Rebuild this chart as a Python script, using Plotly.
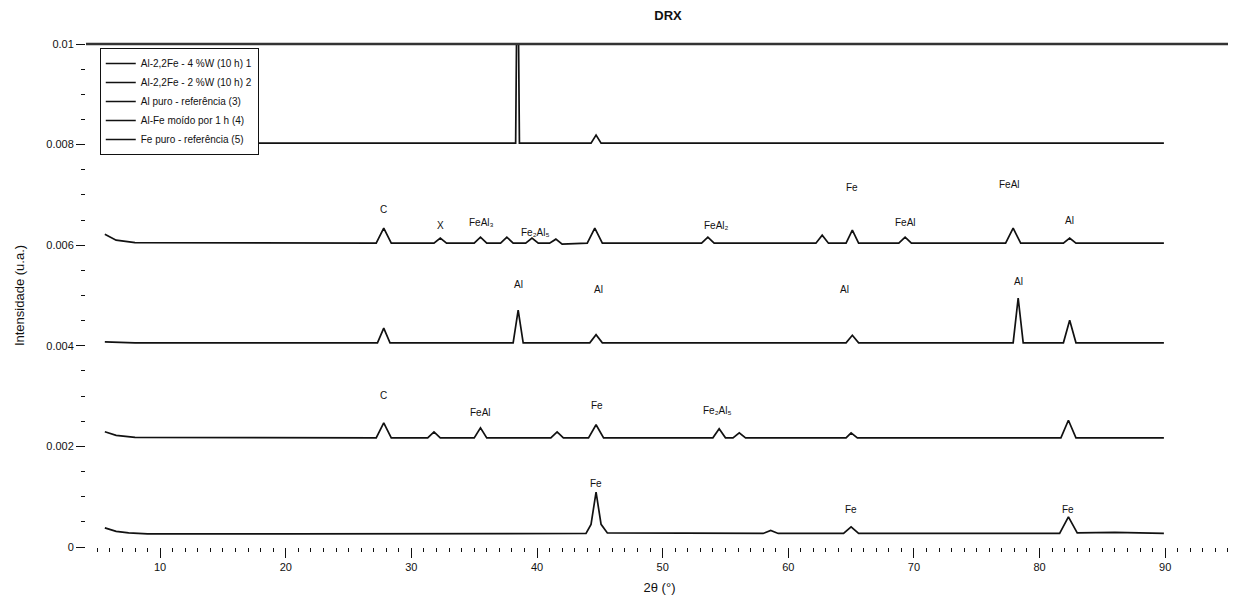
import plotly.graph_objects as go

# ---- data (2theta in degrees, intensity in a.u.) ----
names = ["Al-2,2Fe - 4 %W (10 h) 1", "Al-2,2Fe - 2 %W (10 h) 2", "Al puro - referência (3)",
         "Al-Fe moído por 1 h (4)", "Fe puro - referência (5)"]

a_x = [5.6, 8.0, 20.0, 30.0, 38.3, 38.45, 38.6, 44.3, 44.7, 45.1, 60.0, 75.0, 89.9]
a_y = [0.00806, 0.00803, 0.00803, 0.00803, 0.00803, 0.01250, 0.00803, 0.00803, 0.00819, 0.00803, 0.00803, 0.00803, 0.00803]

b_x = [5.6, 6.5, 8.0, 20.0, 27.2, 27.8, 28.4, 31.8, 32.3, 32.8, 35.0, 35.5, 36.0, 37.1, 37.6, 38.1,
       39.1, 39.6, 40.1, 41.0, 41.5, 42.0, 44.0, 44.6, 45.2, 53.1, 53.6, 54.1, 62.2, 62.7, 63.2,
       64.6, 65.1, 65.6, 68.8, 69.3, 69.8, 77.3, 77.9, 78.5, 81.9, 82.4, 82.9, 89.9]
b_y = [0.00622, 0.00610, 0.00605, 0.00604, 0.00604, 0.00634, 0.00604, 0.00604, 0.00614, 0.00604,
       0.00604, 0.00616, 0.00604, 0.00604, 0.00616, 0.00604, 0.00604, 0.00614, 0.00604, 0.00604,
       0.00612, 0.00602, 0.00604, 0.00634, 0.00604, 0.00604, 0.00616, 0.00604, 0.00604, 0.00620,
       0.00604, 0.00604, 0.00630, 0.00604, 0.00604, 0.00616, 0.00604, 0.00604, 0.00634, 0.00604,
       0.00604, 0.00614, 0.00604, 0.00604]

c_x = [5.6, 8.0, 27.3, 27.8, 28.3, 38.1, 38.5, 38.9, 44.2, 44.7, 45.2, 64.6, 65.1, 65.6,
       77.9, 78.3, 78.7, 81.9, 82.4, 82.9, 89.9]
c_y = [0.00408, 0.00406, 0.00406, 0.00435, 0.00406, 0.00406, 0.00471, 0.00406, 0.00406, 0.00422,
       0.00406, 0.00406, 0.00421, 0.00406, 0.00406, 0.00495, 0.00406, 0.00406, 0.00451, 0.00406,
       0.00406]

d_x = [5.6, 6.5, 8.0, 27.2, 27.8, 28.4, 31.3, 31.8, 32.3, 35.0, 35.5, 36.0, 41.1, 41.6, 42.1,
       44.1, 44.7, 45.3, 54.0, 54.5, 55.0, 55.6, 56.1, 56.6, 64.6, 65.0, 65.5, 81.7, 82.3, 82.9, 89.9]
d_y = [0.00229, 0.00222, 0.00218, 0.00217, 0.00247, 0.00217, 0.00217, 0.00229, 0.00217, 0.00217,
       0.00237, 0.00217, 0.00217, 0.00229, 0.00217, 0.00217, 0.00243, 0.00217, 0.00217, 0.00235,
       0.00217, 0.00217, 0.00227, 0.00217, 0.00217, 0.00227, 0.00217, 0.00217, 0.00252, 0.00217,
       0.00217]

e_x = [5.6, 6.5, 7.5, 9.0, 20.0, 30.0, 40.0, 43.9, 44.3, 44.7, 45.1, 45.6, 58.0, 58.6, 59.2,
       64.4, 65.0, 65.6, 75.0, 81.6, 82.3, 83.0, 86.0, 89.9]
e_y = [0.00038, 0.00031, 0.00028, 0.00026, 0.00026, 0.00026, 0.00026, 0.00027, 0.00045, 0.00109,
       0.00045, 0.00028, 0.00027, 0.00033, 0.00027, 0.00027, 0.00040, 0.00027, 0.00027, 0.00027,
       0.00060, 0.00028, 0.00029, 0.00027]

# peak labels: text, 2theta, intensity
lab_text = ["C", "X", "FeAl₃", "Fe₂Al₅", "FeAl₂", "Fe", "FeAl", "FeAl", "Al",
            "Al", "Al", "Al", "Al",
            "C", "FeAl", "Fe", "Fe₂Al₅",
            "Fe", "Fe", "Fe"]
lab_x = [27.8, 32.3, 35.6, 39.8, 54.3, 65.1, 69.3, 77.6, 82.4,
         38.5, 44.9, 64.5, 78.3,
         27.8, 35.5, 44.8, 54.3,
         44.7, 65.0, 82.3]
lab_y = [0.00670, 0.00640, 0.00646, 0.00626, 0.00640, 0.00714, 0.00646, 0.00720, 0.00650,
         0.00521, 0.00511, 0.00511, 0.00527,
         0.00302, 0.00268, 0.00282, 0.00272,
         0.00127, 0.00074, 0.00074]

series = [(a_x, a_y), (b_x, b_y), (c_x, c_y), (d_x, d_y), (e_x, e_y)]

fig = go.Figure()
for nm, (xs, ys) in zip(names, series):
    fig.add_trace(go.Scatter(x=xs, y=ys, mode="lines", name=nm,
                             line=dict(color="#111111", width=1.7)))

for t, x, y in zip(lab_text, lab_x, lab_y):
    fig.add_annotation(x=x, y=y, text=t, showarrow=False,
                       font=dict(size=10, color="#111111"))

fig.add_shape(type="line", xref="paper", yref="paper", x0=0, x1=1, y0=1, y1=1,
              line=dict(color="#333333", width=2.5))

fig.update_layout(
    width=1236, height=605,
    margin=dict(l=78, r=11, t=36, b=66, autoexpand=False),
    paper_bgcolor="white", plot_bgcolor="white",
    font=dict(family="Liberation Sans, Arial, sans-serif", size=11, color="#111111"),
    title=dict(text="<b>DRX</b>", x=0.534, xanchor="center", y=0.988, yanchor="middle",
               font=dict(size=13), automargin=False),
    showlegend=True,
    legend=dict(x=0.012, y=0.992, xanchor="left", yanchor="top",
                bgcolor="white", bordercolor="#111111", borderwidth=1,
                font=dict(size=10), tracegroupgap=0),
    xaxis=dict(title=dict(text="2θ (°)", standoff=10), range=[4.1, 95.4], automargin=False,
               dtick=10, tick0=0, showgrid=False, zeroline=False, showline=False,
               ticks="outside", ticklen=10, tickcolor="#111111",
               minor=dict(dtick=1, ticks="outside", ticklen=4, tickcolor="#111111")),
    yaxis=dict(title=dict(text="Intensidade (u.a.)", standoff=18), range=[0, 0.01], automargin=False,
               dtick=0.002, showgrid=False, zeroline=False, showline=False,
               ticks="outside", ticklen=9, tickcolor="#111111",
               minor=dict(dtick=0.0005, ticks="outside", ticklen=4, tickcolor="#111111")),
)

fig.write_html("out.html")
